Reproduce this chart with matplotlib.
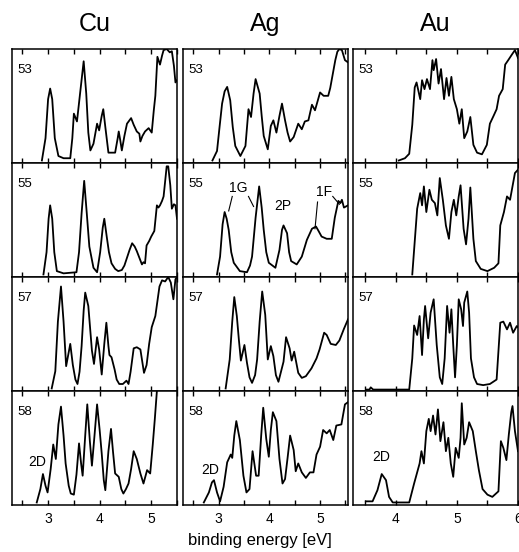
#!/usr/bin/env python3
"""Photoelectron spectra of Cu, Ag and Au cluster anions (sizes 53-58)."""

import matplotlib.pyplot as plt
from matplotlib.ticker import MultipleLocator

plt.rcParams["font.family"] = ["Liberation Sans", "DejaVu Sans"]

metals = ["Cu", "Ag", "Au"]
sizes = ["53", "55", "57", "58"]

# binding energy [eV] and intensity (arb. units, panel height = 1)
cu53_e = [2.88, 2.95, 3.00, 3.04, 3.08, 3.13, 3.20, 3.30, 3.43, 3.47, 3.50, 3.56, 3.62, 3.69, 3.74,
          3.78, 3.82, 3.88, 3.95, 3.99, 4.04, 4.07, 4.11, 4.17, 4.30, 4.35, 4.37, 4.40, 4.43, 4.48,
          4.53, 4.61, 4.66, 4.72, 4.77, 4.79, 4.83, 4.88, 4.95, 5.01, 5.05, 5.08, 5.12, 5.17, 5.21,
          5.24, 5.30, 5.36, 5.40, 5.44, 5.47, 5.50]
cu53_i = [0.00, 0.20, 0.55, 0.645, 0.55, 0.20, 0.04, 0.02, 0.02, 0.20, 0.42, 0.35, 0.60, 0.89, 0.60,
          0.25, 0.09, 0.15, 0.33, 0.27, 0.40, 0.46, 0.30, 0.07, 0.07, 0.20, 0.26, 0.18, 0.09, 0.22,
          0.33, 0.38, 0.32, 0.26, 0.24, 0.17, 0.22, 0.26, 0.29, 0.25, 0.45, 0.58, 0.93, 0.86, 0.94,
          0.99, 1.00, 0.97, 0.98, 0.85, 0.70, 0.72]

cu55_e = [2.91, 2.97, 3.01, 3.04, 3.08, 3.12, 3.17, 3.30, 3.55, 3.60, 3.65, 3.70, 3.75, 3.80, 3.88,
          3.95, 4.01, 4.06, 4.09, 4.14, 4.18, 4.23, 4.30, 4.36, 4.43, 4.48, 4.53, 4.58, 4.63, 4.68,
          4.72, 4.77, 4.82, 4.85, 4.88, 4.91, 4.96, 5.00, 5.06, 5.11, 5.14, 5.17, 5.21, 5.24, 5.28,
          5.30, 5.33, 5.37, 5.40, 5.44, 5.47, 5.50]
cu55_i = [0.00, 0.20, 0.50, 0.62, 0.50, 0.20, 0.03, 0.01, 0.02, 0.20, 0.55, 0.84, 0.55, 0.25, 0.06,
          0.02, 0.20, 0.42, 0.50, 0.33, 0.20, 0.10, 0.05, 0.03, 0.04, 0.08, 0.15, 0.22, 0.28, 0.25,
          0.21, 0.15, 0.09, 0.11, 0.10, 0.26, 0.30, 0.34, 0.39, 0.62, 0.60, 0.62, 0.66, 0.70, 0.88,
          0.97, 0.97, 0.80, 0.59, 0.63, 0.62, 0.50]

cu57_e = [3.07, 3.14, 3.19, 3.25, 3.30, 3.35, 3.43, 3.48, 3.53, 3.57, 3.61, 3.65, 3.69, 3.72, 3.78,
          3.85, 3.89, 3.95, 3.99, 4.04, 4.09, 4.13, 4.17, 4.19, 4.23, 4.29, 4.33, 4.38, 4.45, 4.52,
          4.56, 4.60, 4.66, 4.72, 4.79, 4.86, 4.91, 4.96, 5.01, 5.08, 5.16, 5.21, 5.27, 5.33, 5.38,
          5.43, 5.47, 5.50]
cu57_i = [0.00, 0.155, 0.60, 0.915, 0.60, 0.20, 0.40, 0.21, 0.08, 0.04, 0.15, 0.38, 0.70, 0.86, 0.74,
          0.34, 0.22, 0.46, 0.35, 0.125, 0.40, 0.59, 0.38, 0.30, 0.28, 0.17, 0.08, 0.04, 0.04, 0.07,
          0.04, 0.15, 0.36, 0.37, 0.35, 0.14, 0.21, 0.40, 0.55, 0.65, 0.915, 0.97, 0.96, 1.00, 0.95,
          0.80, 0.98, 1.00]

cu58_e = [2.78, 2.85, 2.90, 2.95, 2.99, 3.05, 3.10, 3.15, 3.20, 3.25, 3.30, 3.34, 3.40, 3.44, 3.50,
          3.55, 3.60, 3.64, 3.67, 3.72, 3.76, 3.81, 3.85, 3.90, 3.95, 4.00, 4.04, 4.08, 4.11, 4.17,
          4.22, 4.26, 4.30, 4.37, 4.42, 4.46, 4.51, 4.56, 4.61, 4.66, 4.72, 4.79, 4.85, 4.92, 4.98,
          5.03, 5.07, 5.11, 5.13]
cu58_i = [0.00, 0.12, 0.255, 0.15, 0.09, 0.30, 0.52, 0.39, 0.70, 0.86, 0.60, 0.35, 0.15, 0.08, 0.07,
          0.25, 0.53, 0.35, 0.24, 0.60, 0.88, 0.55, 0.33, 0.60, 0.88, 0.65, 0.44, 0.20, 0.11, 0.46,
          0.66, 0.45, 0.26, 0.23, 0.12, 0.08, 0.12, 0.17, 0.30, 0.46, 0.39, 0.26, 0.17, 0.29, 0.26,
          0.52, 0.75, 1.00, 1.05]

ag53_e = [2.88, 2.97, 3.02, 3.07, 3.12, 3.17, 3.23, 3.28, 3.33, 3.43, 3.53, 3.59, 3.64, 3.69, 3.73,
          3.81, 3.85, 3.89, 3.97, 4.03, 4.08, 4.14, 4.20, 4.25, 4.31, 4.36, 4.41, 4.48, 4.57, 4.64,
          4.70, 4.77, 4.84, 4.90, 5.00, 5.07, 5.16, 5.20, 5.26, 5.30, 5.34, 5.38, 5.43, 5.49, 5.55]
ag53_i = [0.00, 0.085, 0.30, 0.51, 0.62, 0.66, 0.54, 0.30, 0.13, 0.04, 0.13, 0.46, 0.39, 0.60, 0.73,
          0.60, 0.40, 0.22, 0.10, 0.31, 0.36, 0.25, 0.40, 0.51, 0.36, 0.25, 0.17, 0.21, 0.33, 0.28,
          0.35, 0.36, 0.50, 0.45, 0.61, 0.58, 0.58, 0.65, 0.80, 0.90, 0.975, 1.00, 0.99, 0.90, 0.88]

ag55_e = [2.97, 3.03, 3.08, 3.12, 3.16, 3.20, 3.25, 3.30, 3.42, 3.56, 3.62, 3.66, 3.73, 3.80, 3.85,
          3.89, 3.94, 3.99, 4.12, 4.20, 4.25, 4.28, 4.35, 4.39, 4.43, 4.54, 4.64, 4.74, 4.84, 4.92,
          4.97, 5.03, 5.13, 5.23, 5.29, 5.36, 5.40, 5.43, 5.47, 5.55]
ag55_i = [0.00, 0.16, 0.45, 0.56, 0.50, 0.40, 0.20, 0.105, 0.03, 0.02, 0.08, 0.16, 0.51, 0.79, 0.60,
          0.40, 0.20, 0.105, 0.06, 0.22, 0.40, 0.44, 0.37, 0.20, 0.12, 0.09, 0.16, 0.31, 0.41, 0.43,
          0.39, 0.34, 0.32, 0.32, 0.51, 0.66, 0.64, 0.67, 0.60, 0.62]

ag57_e = [3.14, 3.22, 3.27, 3.31, 3.36, 3.40, 3.44, 3.51, 3.56, 3.61, 3.66, 3.72, 3.76, 3.81, 3.86,
          3.92, 3.97, 4.03, 4.08, 4.13, 4.18, 4.28, 4.33, 4.40, 4.44, 4.49, 4.57, 4.64, 4.72, 4.83,
          4.93, 4.99, 5.08, 5.13, 5.21, 5.31, 5.38, 5.47, 5.55]
ag57_i = [0.00, 0.26, 0.60, 0.82, 0.65, 0.44, 0.25, 0.39, 0.23, 0.10, 0.05, 0.12, 0.26, 0.60, 0.87,
          0.66, 0.26, 0.38, 0.29, 0.12, 0.06, 0.24, 0.46, 0.36, 0.25, 0.33, 0.14, 0.095, 0.11, 0.18,
          0.27, 0.35, 0.50, 0.48, 0.40, 0.39, 0.43, 0.535, 0.62]

ag58_e = [2.71, 2.81, 2.87, 2.91, 2.97, 3.03, 3.10, 3.17, 3.24, 3.27, 3.31, 3.35, 3.42, 3.49, 3.55,
          3.61, 3.67, 3.74, 3.79, 3.84, 3.88, 3.94, 3.99, 4.03, 4.07, 4.14, 4.20, 4.26, 4.31, 4.36,
          4.41, 4.48, 4.52, 4.57, 4.64, 4.72, 4.80, 4.87, 4.93, 5.00, 5.06, 5.13, 5.19, 5.26, 5.32,
          5.42, 5.49, 5.55]
ag58_i = [0.00, 0.09, 0.18, 0.20, 0.09, 0.01, 0.14, 0.36, 0.43, 0.40, 0.60, 0.73, 0.56, 0.24, 0.09,
          0.12, 0.46, 0.24, 0.24, 0.60, 0.85, 0.57, 0.41, 0.65, 0.81, 0.73, 0.39, 0.17, 0.21, 0.40,
          0.60, 0.47, 0.28, 0.35, 0.27, 0.22, 0.27, 0.27, 0.43, 0.50, 0.65, 0.62, 0.65, 0.56, 0.69,
          0.70, 0.88, 0.90]

au53_e = [4.05, 4.15, 4.22, 4.27, 4.31, 4.34, 4.40, 4.43, 4.47, 4.51, 4.56, 4.60, 4.62, 4.66, 4.70,
          4.74, 4.79, 4.83, 4.87, 4.91, 4.95, 5.00, 5.04, 5.08, 5.12, 5.17, 5.22, 5.27, 5.33, 5.41,
          5.49, 5.54, 5.60, 5.65, 5.69, 5.75, 5.79, 5.84, 5.90, 5.95, 6.00]
au53_i = [0.00, 0.02, 0.06, 0.32, 0.655, 0.70, 0.55, 0.72, 0.64, 0.73, 0.64, 0.90, 0.81, 0.91, 0.69,
          0.82, 0.55, 0.74, 0.58, 0.75, 0.55, 0.46, 0.33, 0.46, 0.20, 0.26, 0.39, 0.14, 0.07, 0.055,
          0.14, 0.33, 0.40, 0.46, 0.58, 0.64, 0.86, 0.90, 0.95, 0.99, 0.92]

au55_e = [4.27, 4.31, 4.35, 4.40, 4.43, 4.46, 4.50, 4.55, 4.59, 4.64, 4.68, 4.72, 4.77, 4.82, 4.87,
          4.91, 4.95, 4.99, 5.03, 5.06, 5.11, 5.15, 5.19, 5.22, 5.27, 5.31, 5.39, 5.50, 5.61, 5.68,
          5.71, 5.77, 5.82, 5.87, 5.91, 5.95, 6.00]
au55_i = [0.00, 0.295, 0.59, 0.73, 0.62, 0.79, 0.56, 0.76, 0.67, 0.64, 0.53, 0.865, 0.67, 0.44, 0.32,
          0.56, 0.67, 0.53, 0.70, 0.80, 0.41, 0.27, 0.50, 0.78, 0.32, 0.12, 0.05, 0.03, 0.06, 0.10,
          0.44, 0.56, 0.70, 0.67, 0.79, 0.91, 0.94]

au57_e = [3.52, 3.57, 3.59, 3.63, 4.22, 4.27, 4.30, 4.35, 4.39, 4.43, 4.46, 4.48, 4.53, 4.57, 4.62,
          4.67, 4.72, 4.76, 4.80, 4.84, 4.88, 4.91, 4.94, 4.97, 5.00, 5.03, 5.07, 5.10, 5.12, 5.17,
          5.20, 5.23, 5.28, 5.33, 5.43, 5.54, 5.65, 5.71, 5.76, 5.82, 5.87, 5.92, 5.98, 6.00]
au57_i = [-0.01, -0.01, 0.01, -0.01, -0.01, 0.27, 0.565, 0.48, 0.65, 0.30, 0.62, 0.74, 0.45, 0.68, 0.80,
          0.39, 0.10, 0.04, 0.27, 0.74, 0.50, 0.71, 0.39, 0.10, 0.39, 0.80, 0.71, 0.56, 0.77, 0.87,
          0.68, 0.27, 0.10, 0.04, 0.03, 0.04, 0.08, 0.59, 0.60, 0.53, 0.59, 0.50, 0.56, 0.55]

au58_e = [3.51, 3.62, 3.70, 3.77, 3.84, 3.89, 3.95, 4.22, 4.30, 4.39, 4.42, 4.46, 4.50, 4.54, 4.57,
          4.61, 4.65, 4.69, 4.73, 4.78, 4.82, 4.86, 4.90, 4.94, 4.98, 5.03, 5.06, 5.08, 5.12, 5.16,
          5.20, 5.26, 5.31, 5.36, 5.42, 5.50, 5.58, 5.68, 5.72, 5.76, 5.81, 5.85, 5.89, 5.91, 5.95,
          6.00]
au58_i = [0.01, 0.01, 0.11, 0.255, 0.20, 0.05, 0.0, 0.0, 0.17, 0.35, 0.46, 0.35, 0.64, 0.75, 0.64,
          0.78, 0.61, 0.835, 0.55, 0.72, 0.46, 0.58, 0.35, 0.23, 0.49, 0.40, 0.58, 0.89, 0.52, 0.58,
          0.72, 0.64, 0.46, 0.29, 0.12, 0.07, 0.05, 0.10, 0.55, 0.49, 0.38, 0.61, 0.81, 0.865, 0.64,
          0.46]

spectra = {
    ("Cu", "53"): (cu53_e, cu53_i), ("Cu", "55"): (cu55_e, cu55_i),
    ("Cu", "57"): (cu57_e, cu57_i), ("Cu", "58"): (cu58_e, cu58_i),
    ("Ag", "53"): (ag53_e, ag53_i), ("Ag", "55"): (ag55_e, ag55_i),
    ("Ag", "57"): (ag57_e, ag57_i), ("Ag", "58"): (ag58_e, ag58_i),
    ("Au", "53"): (au53_e, au53_i), ("Au", "55"): (au55_e, au55_i),
    ("Au", "57"): (au57_e, au57_i), ("Au", "58"): (au58_e, au58_i),
}
xlims = {"Cu": (2.3, 5.5), "Ag": (2.3, 5.55), "Au": (3.3, 6.0)}
xticks = {"Cu": [3, 4, 5], "Ag": [3, 4, 5], "Au": [4, 5, 6]}

W, H = 519, 552
fig = plt.figure(figsize=(W / 100, H / 100), dpi=100)
col_left = [12, 183, 353]
panel_w = 165
row_top = [49, 163, 277, 391]
panel_h = 114.25

axes = {}
for c, metal in enumerate(metals):
    for r, size in enumerate(sizes):
        ax = fig.add_axes([col_left[c] / W, 1 - (row_top[r] + panel_h) / H,
                           panel_w / W, panel_h / H])
        e, i = spectra[(metal, size)]
        ax.plot(e, i, color="black", lw=1.3, solid_joinstyle="round")
        ax.set_xlim(*xlims[metal])
        ax.set_ylim(-0.025, 1.0)
        ax.set_yticks([])
        ax.set_xticks(xticks[metal])
        ax.xaxis.set_minor_locator(MultipleLocator(0.5))
        ax.tick_params(axis="x", which="both", direction="in", top=True, bottom=True,
                       length=3.5, width=1.0, labelsize=10, pad=5)
        if r < len(sizes) - 1:
            ax.tick_params(axis="x", labelbottom=False)
        for sp in ax.spines.values():
            sp.set_linewidth(1.1)
        ax.text(0.035, 0.82, size, transform=ax.transAxes, fontsize=9.5, va="center")
        axes[(metal, size)] = ax
    fig.text((col_left[c] + panel_w / 2) / W, 1 - 24 / H, metal, fontsize=18,
             ha="center", va="center")

# peak assignments
ax = axes[("Ag", "55")]
ax.text(3.39, 0.78, "1G", fontsize=10, ha="center", va="center")
ax.plot([3.27, 3.20], [0.70, 0.57], color="black", lw=0.8)
ax.plot([3.59, 3.69], [0.70, 0.61], color="black", lw=0.8)
ax.text(4.27, 0.61, "2P", fontsize=10, ha="center", va="center")
ax.text(5.08, 0.74, "1F", fontsize=10, ha="center", va="center")
ax.plot([4.95, 4.90], [0.65, 0.41], color="black", lw=0.8)
ax.plot([5.25, 5.38], [0.70, 0.63], color="black", lw=0.8)

axes[("Cu", "58")].text(2.78, 0.36, "2D", fontsize=10, ha="center", va="center")
axes[("Ag", "58")].text(2.83, 0.29, "2D", fontsize=10, ha="center", va="center")
axes[("Au", "58")].text(3.76, 0.41, "2D", fontsize=10, ha="center", va="center")

fig.text(0.5, 1 - 541 / H, "binding energy [eV]", fontsize=12, ha="center", va="center")

fig.savefig("out.png", dpi=100)
